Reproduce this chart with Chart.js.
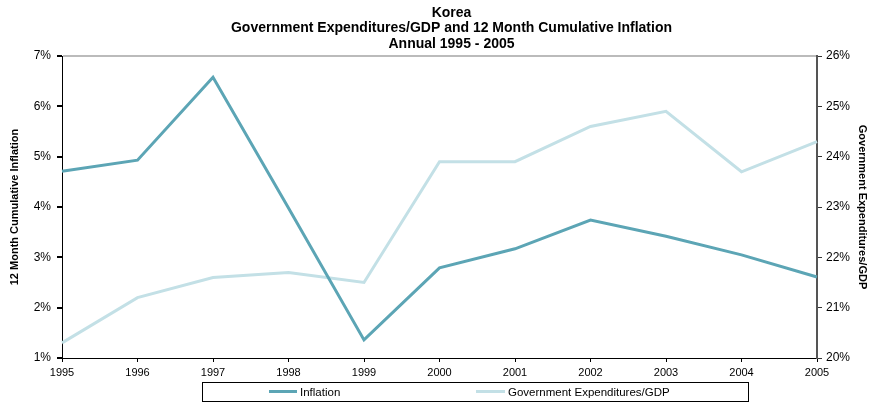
<!DOCTYPE html>
<html>
<head>
<meta charset="utf-8">
<script src="https://cdn.jsdelivr.net/npm/chart.js@4/dist/chart.umd.min.js"></script>
<style>
html,body{margin:0;padding:0;background:#fff;}
#wrap{position:relative;width:873px;height:403px;}
#legend{position:absolute;left:202px;top:382px;width:547px;height:20px;border:1px solid #000;box-sizing:border-box;font-family:"Liberation Sans",Arial,sans-serif;font-size:11.5px;color:#000;}
.sw{position:absolute;top:7px;height:3px;}
.tx{position:absolute;top:2px;line-height:14px;white-space:nowrap;}
</style>
</head>
<body>
<div id="wrap">
<canvas id="c" width="873" height="403"></canvas>
<div id="legend"></div>
</div>
<script>
const categories = ['1995','1996','1997','1998','1999','2000','2001','2002','2003','2004','2005'];
const inflation = [4.71, 4.93, 6.58, 3.98, 1.36, 2.79, 3.17, 3.74, 3.42, 3.05, 2.61];
const govExpGdp = [20.3, 21.2, 21.6, 21.7, 21.5, 23.9, 23.9, 24.6, 24.9, 23.7, 24.3];
const titleLines = ['Korea', 'Government Expenditures/GDP and 12 Month Cumulative Inflation', 'Annual 1995 - 2005'];
const seriesNames = ['Inflation', 'Government Expenditures/GDP'];
const colInfl = '#5CA5B5';
const colGov = '#C3E0E6';
const font = '"Liberation Sans", Arial, sans-serif';

const legend = document.getElementById('legend');
[[seriesNames[0], colInfl, 66, 28, 97],[seriesNames[1], colGov, 273, 29, 305]].forEach(([n,c,sx,sw,tx])=>{
  const s = document.createElement('div');
  s.className='sw'; s.style.left = sx+'px'; s.style.width = sw+'px'; s.style.background = c;
  legend.appendChild(s);
  const t = document.createElement('div');
  t.className='tx'; t.style.left = tx+'px'; t.textContent = n;
  legend.appendChild(t);
});

const shiftTitle = {
  id: 'shiftTitle',
  afterLayout(chart) {
    if (chart.titleBlock) { chart.titleBlock.left = 30; }
  }
};

new Chart(document.getElementById('c'), {
  type: 'line',
  data: {
    labels: categories,
    datasets: [
      {label: seriesNames[0], data: inflation, yAxisID: 'y', borderColor: colInfl, borderWidth: 3, pointRadius: 0, tension: 0, fill: false},
      {label: seriesNames[1], data: govExpGdp, yAxisID: 'y2', borderColor: colGov, borderWidth: 3, pointRadius: 0, tension: 0, fill: false, order: 1}
    ]
  },
  plugins: [shiftTitle],
  options: {
    responsive: false,
    animation: false,
    events: [],
    layout: {padding: {left: 0, right: 0, top: 0, bottom: 23}},
    plugins: {
      legend: {display: false},
      tooltip: {enabled: false},
      title: {display: true, text: titleLines, color: '#000', font: {family: font, size: 14, weight: 'bold', lineHeight: 1.12}, padding: {top: 5, bottom: 4}}
    },
    scales: {
      x: {
        offset: false,
        afterFit: s => { s.height = 22; },
        grid: {drawOnChartArea: false, drawTicks: true, tickLength: 4, color: '#000'},
        border: {color: '#000', width: 1},
        ticks: {color: '#000', font: {family: font, size: 11}, padding: 4, maxRotation: 0, autoSkip: false}
      },
      y: {
        position: 'left',
        min: 1, max: 7,
        afterFit: s => { s.width = 62; },
        grid: {drawOnChartArea: true, color: c => (c.tick && c.tick.value === 7) ? '#bbbbbb' : 'rgba(0,0,0,0)', tickColor: '#000', tickLength: 5, lineWidth: 2},
        border: {color: '#000', width: 1},
        ticks: {stepSize: 1, color: '#000', font: {family: font, size: 12}, padding: 6, callback: v => v + '%'},
        title: {display: true, text: '12 Month Cumulative Inflation', color: '#000', font: {family: font, size: 11, weight: 'bold'}, padding: {top: 8, bottom: 0}}
      },
      y2: {
        position: 'right',
        min: 20, max: 26,
        afterFit: s => { s.width = 56; },
        grid: {drawOnChartArea: false, tickColor: '#333', tickLength: 5},
        border: {color: '#555', width: 2},
        ticks: {stepSize: 1, color: '#000', font: {family: font, size: 12}, padding: 4, callback: v => v + '%'},
        title: {display: true, text: 'Government Expenditures/GDP', color: '#000', font: {family: font, size: 11, weight: 'bold'}, padding: {top: 4, bottom: 0}}
      }
    }
  }
});
</script>
</body>
</html>
